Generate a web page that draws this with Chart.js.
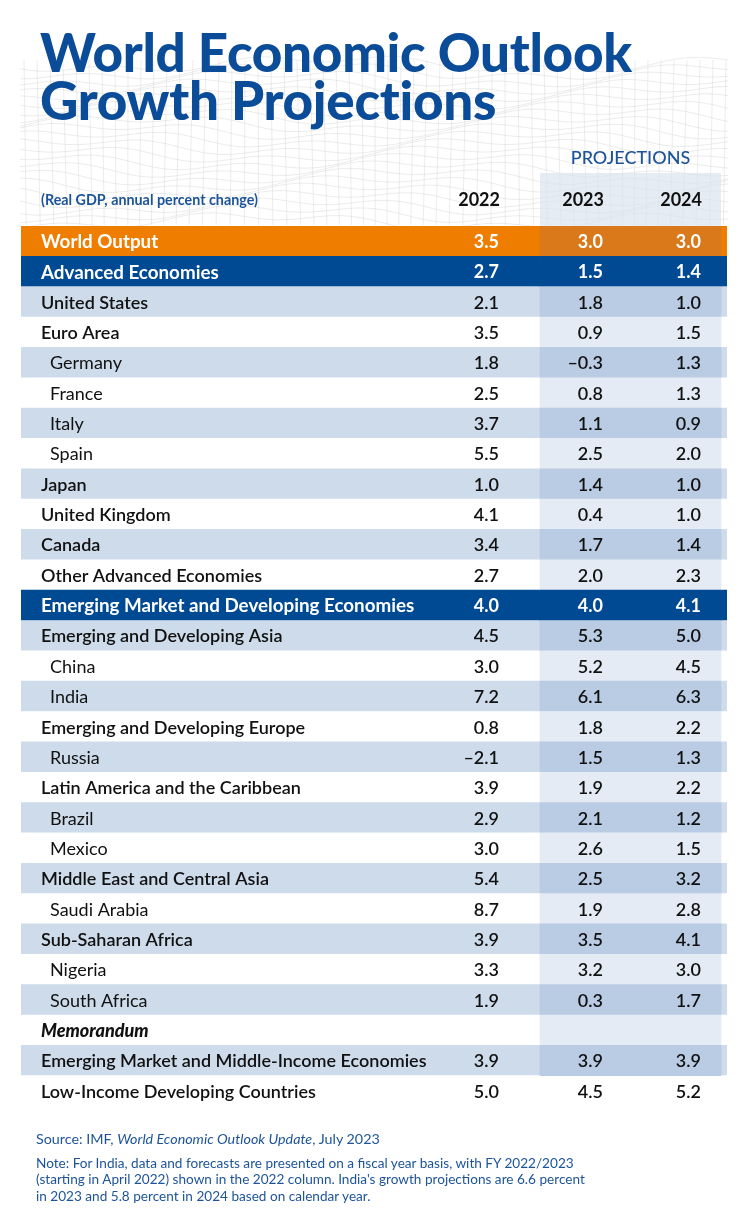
<!DOCTYPE html>
<html>
<head>
<meta charset="utf-8">
<script src="https://cdn.jsdelivr.net/npm/chart.js@4/dist/chart.umd.min.js"></script>
<style>
  html,body{margin:0;padding:0;background:#fff;}
  #wrap{position:relative;width:744px;height:1229px;overflow:hidden;}
  #c{position:absolute;left:0;top:0;}
  .title{position:absolute;left:40px;top:28px;font-family:Lato,sans-serif;font-weight:900;font-size:53px;line-height:48px;color:#0b4c99;letter-spacing:-0.3px;}
  .notes{position:absolute;left:36px;top:1131px;font-family:Lato,sans-serif;font-size:13.6px;color:#1d5499;line-height:16.5px;}
  .notes p{margin:0 0 7px 0;}
  .notes p.src{font-size:14.3px;}
</style>
</head>
<body>
<div id="wrap">
  <canvas id="c" width="744" height="1229"></canvas>
  <div class="title">World Economic Outlook<br>Growth Projections</div>
  <div class="notes">
    <p class="src">Source: IMF, <i>World Economic Outlook Update</i>, July 2023</p>
    <p>Note: For India, data and forecasts are presented on a fiscal year basis, with FY 2022/2023<br>(starting in April 2022) shown in the 2022 column. India's growth projections are 6.6 percent<br>in 2023 and 5.8 percent in 2024 based on calendar year.</p>
  </div>
</div>
<script>
// DATA
const years = ['2022','2023','2024'];
const rowLabels = ['World Output','Advanced Economies','United States','Euro Area','Germany','France','Italy','Spain',
  'Japan','United Kingdom','Canada','Other Advanced Economies','Emerging Market and Developing Economies',
  'Emerging and Developing Asia','China','India','Emerging and Developing Europe','Russia',
  'Latin America and the Caribbean','Brazil','Mexico','Middle East and Central Asia','Saudi Arabia',
  'Sub-Saharan Africa','Nigeria','South Africa','Memorandum',
  'Emerging Market and Middle-Income Economies','Low-Income Developing Countries'];
const v2022 = [3.5,2.7,2.1,3.5,1.8,2.5,3.7,5.5,1.0,4.1,3.4,2.7,4.0,4.5,3.0,7.2,0.8,-2.1,3.9,2.9,3.0,5.4,8.7,3.9,3.3,1.9,null,3.9,5.0];
const v2023 = [3.0,1.5,1.8,0.9,-0.3,0.8,1.1,2.5,1.4,0.4,1.7,2.0,4.0,5.3,5.2,6.1,1.8,1.5,1.9,2.1,2.6,2.5,1.9,3.5,3.2,0.3,null,3.9,4.5];
const v2024 = [3.0,1.4,1.0,1.5,1.3,1.3,0.9,2.0,1.0,1.0,1.4,2.3,4.1,5.0,4.5,6.3,2.2,1.3,2.2,1.2,1.5,3.2,2.8,4.1,3.0,1.7,null,3.9,5.2];
// row kinds: o=orange, b=blue, l=light, w=white, m=memo, x=last row (no projection shading)
const rowKind = ['o','b','l','w','l','w','l','w','l','w','l','w','b','l','w','l','w','l','w','l','w','l','w','l','w','l','m','l','x'];
const rowIndent = [0,0,0,0,1,1,1,1,0,0,0,0,0,0,1,1,0,1,0,1,1,0,1,0,1,1,0,0,0];

// STYLE / LAYOUT
const rowFill = {o:'#ef7d00',b:'#004a94',l:'#cddbea',w:'#ffffff',m:'#ffffff',x:'#ffffff'};
const projFill = {o:'#d9791a',b:'#004a94',l:'#b9cce3',w:'#e4ebf4',m:'#e4ebf4',x:null};
const TABLE_W = 706;
const PROJ = [519, 700];
const colRight = [478, 582, 680];
const FONT = 'Lato, sans-serif';

const fmt = v => v === null ? '' : (v < 0 ? '\u2013' + Math.abs(v).toFixed(1) : v.toFixed(1));

const meshPlugin = {
  id:'mesh',
  beforeDraw(chart){
    const ctx = chart.ctx;
    ctx.save();
    ctx.strokeStyle = 'rgba(200,200,200,0.5)';
    ctx.lineWidth = 0.7;
    for(let i=0;i<22;i++){
      ctx.beginPath();
      for(let x=20;x<=730;x+=6){
        const y = 64 + i*7.5 + 6*Math.sin(x/70 + i*0.35) + 4*Math.sin(x/23 + i);
        if(x===20) ctx.moveTo(x,y); else ctx.lineTo(x,y);
      }
      ctx.stroke();
    }
    for(let x=24;x<730;x+=13){
      ctx.beginPath();
      ctx.moveTo(x,60);
      ctx.lineTo(x+4*Math.sin(x/40),225);
      ctx.stroke();
    }
    ctx.restore();
  }
};

const tablePlugin = {
  id:'tableText',
  beforeDatasetsDraw(chart){
    const ctx = chart.ctx, xs = chart.scales.x;
    ctx.save();
    // projection header box
    const x0 = xs.getPixelForValue(PROJ[0]), x1 = xs.getPixelForValue(PROJ[1]);
    ctx.fillStyle = 'rgba(218,228,240,0.7)';
    ctx.fillRect(x0, 173, x1 - x0, chart.chartArea.top - 173);
    ctx.restore();
  },
  afterDatasetsDraw(chart){
    const ctx = chart.ctx, xs = chart.scales.x, ys = chart.scales.y;
    ctx.save();
    ctx.textBaseline = 'middle';
    // header
    ctx.fillStyle = '#1d5499';
    ctx.font = '500 18px ' + FONT;
    ctx.textAlign = 'center';
    ctx.fillText('PROJECTIONS', (xs.getPixelForValue(PROJ[0]) + xs.getPixelForValue(PROJ[1]))/2, 158);
    ctx.textAlign = 'left';
    ctx.font = 'bold 14.3px ' + FONT;
    ctx.fillText('(Real GDP, annual percent change)', 41, 200);
    ctx.fillStyle = '#111';
    ctx.font = 'bold 18px ' + FONT;
    ctx.textAlign = 'right';
    years.forEach((y,i) => ctx.fillText(y, xs.getPixelForValue(colRight[i]) + 1, 200));
    // rows
    rowLabels.forEach((lab, i) => {
      const y = ys.getPixelForValue(i) + 1;
      const k = rowKind[i];
      const dark = (k === 'o' || k === 'b');
      ctx.fillStyle = dark ? '#ffffff' : '#111111';
      ctx.textAlign = 'left';
      if(dark) ctx.font = 'bold 18.8px ' + FONT;
      else if(k === 'm') ctx.font = 'italic 900 18px ' + FONT;
      else if(rowIndent[i]) ctx.font = '18px ' + FONT;
      else ctx.font = '600 18px ' + FONT;
      ctx.fillText(lab, xs.getPixelForValue(rowIndent[i] ? 29 : 20), y);
      ctx.textAlign = 'right';
      ctx.font = (dark ? 'bold ' : '600 ') + '18px ' + FONT;
      [v2022, v2023, v2024].forEach((arr, j) => {
        ctx.fillText(fmt(arr[i]), xs.getPixelForValue(colRight[j]), y);
      });
    });
    ctx.restore();
  }
};

new Chart(document.getElementById('c'), {
  type:'bar',
  data:{
    labels: rowLabels,
    datasets:[
      {
        label:'rows',
        data: rowLabels.map(() => [0, TABLE_W]),
        backgroundColor: rowKind.map(k => rowFill[k]),
        grouped:false, barPercentage:1, categoryPercentage:1, borderWidth:0, order:2
      },
      {
        label:'projections',
        data: rowKind.map(k => projFill[k] ? PROJ : null),
        backgroundColor: rowKind.map(k => projFill[k] || 'rgba(0,0,0,0)'),
        grouped:false, barPercentage:1, categoryPercentage:1, borderWidth:0, order:1
      }
    ]
  },
  options:{
    indexAxis:'y',
    responsive:false,
    animation:false,
    devicePixelRatio:1,
    layout:{padding:{left:21, right:17, top:226, bottom:123}},
    scales:{
      x:{type:'linear', min:0, max:TABLE_W, display:false},
      y:{type:'category', display:false, offset:true}
    },
    plugins:{legend:{display:false}, tooltip:{enabled:false}}
  },
  plugins:[meshPlugin, tablePlugin]
});
</script>
</body>
</html>
